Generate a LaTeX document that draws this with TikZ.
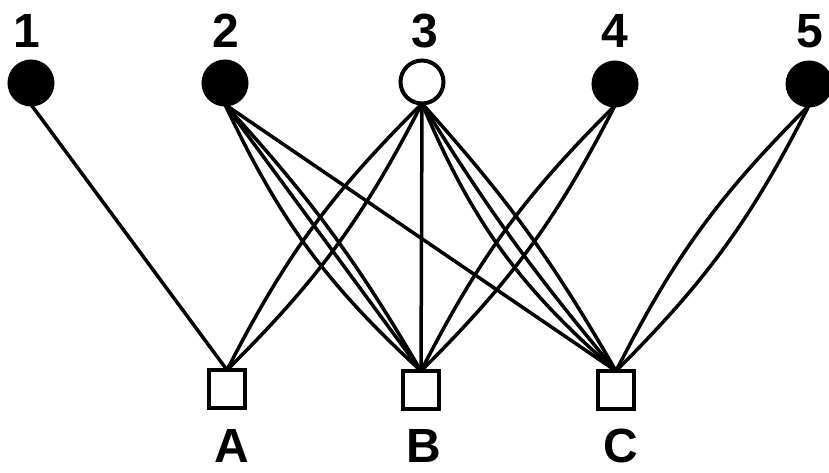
\documentclass[tikz,border=0pt]{standalone}
\usepackage{fontspec}
\setmainfont{Liberation Sans}
\begin{document}
\begin{tikzpicture}[x=1pt,y=-1pt,
  filled/.style={circle,draw,fill=black,line width=4pt,minimum size=43pt,inner sep=0pt,outer sep=0pt},
  hollow/.style={circle,draw,fill=white,line width=4pt,minimum size=43pt,inner sep=0pt,outer sep=0pt},
  sq/.style={rectangle,draw,fill=white,line width=4pt,minimum width=36pt,minimum height=38pt,inner sep=0pt,outer sep=0pt},
  lbl/.style={font=\fontsize{48}{48}\selectfont\bfseries,inner sep=0pt},
  edge/.style={line width=3.5pt}]
\useasboundingbox (0,0) rectangle (829,472);
% top nodes
\node[filled] (n1) at (31,83) {};
\node[filled] (n2) at (225,83) {};
\node[hollow] (n3) at (422,82) {};
\node[filled] (n4) at (615,84) {};
\node[filled] (n5) at (809,84) {};
% bottom nodes
\node[sq] (nA) at (227,389) {};
\node[sq] (nB) at (421,390) {};
\node[sq] (nC) at (616,390) {};
% labels
\node[lbl] (l1) at (27,31) {1};
\node[lbl] (l2) at (226,31) {2};
\node[lbl] (l3) at (425,31) {3};
\node[lbl] (l4) at (615,31) {4};
\node[lbl] (l5) at (810,31) {5};
\node[lbl] (lA) at (232,446) {A};
\node[lbl] (lB) at (424,446) {B};
\node[lbl] (lC) at (621,446) {C};
% edges
\draw[edge] (n1.south) -- (nA.north);
\draw[edge] (n2.south) to[bend right=11] (nB.north);
\draw[edge] (n2.south) -- (nB.north);
\draw[edge] (n2.south) to[bend left=6] (nB.north);
\draw[edge] (n2.south) -- (nC.north);
\draw[edge] (n3.south) to[bend left=9] (nA.north);
\draw[edge] (n3.south) to[bend right=9] (nA.north);
\draw[edge] (n3.south) -- (nB.north);
\draw[edge] (n3.south) to[bend right=13] (nC.north);
\draw[edge] (n3.south) to[bend right=4] (nC.north);
\draw[edge] (n3.south) to[bend left=6] (nC.north);
\draw[edge] (n4.south) to[bend left=9] (nB.north);
\draw[edge] (n4.south) to[bend right=9] (nB.north);
\draw[edge] (n5.south) to[bend left=9] (nC.north);
\draw[edge] (n5.south) to[bend right=9] (nC.north);
\end{tikzpicture}
\end{document}
